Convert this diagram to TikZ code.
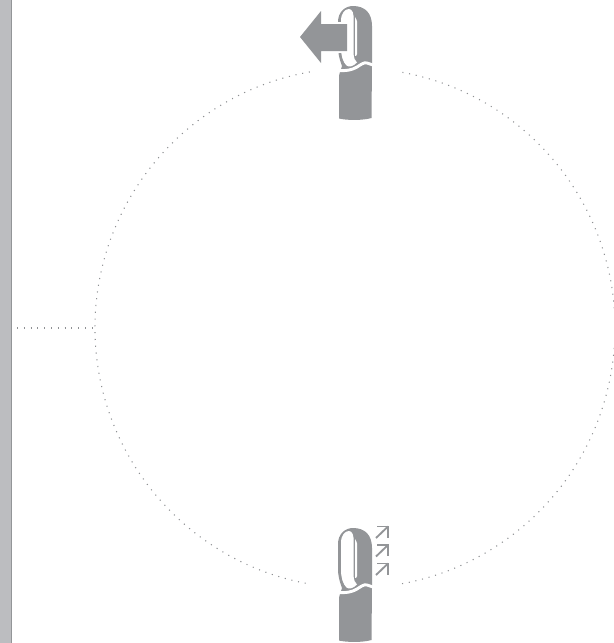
\documentclass[tikz,border=0pt]{standalone}
\usepackage{tikz}
\usetikzlibrary{arrows.meta,positioning,calc}
\usepackage{xcolor}
\definecolor{wandgray}{HTML}{939598}
\definecolor{barlight}{HTML}{BCBDC0}
\definecolor{dotgray}{HTML}{8E9093}

\tikzset{
  wand/.pic={
    % silhouette of head and handle
    \fill[wandgray] (-17,-16) .. controls (-17,-6) and (-10,0) .. (-2,0)
      .. controls (10,0) and (17,-7) .. (17,-20) -- (17,-58)
      .. controls (17,-75) and (16.5,-95) .. (16.5,-112)
      .. controls (8,-114.5) and (-8,-114.5) .. (-16,-112.5)
      -- (-16,-72) .. controls (-16,-68) and (-15,-66) .. (-14,-63) -- (-13,-60)
      .. controls (-16,-52) and (-17,-47) .. (-17,-40) -- cycle;
    % window of the head
    \fill[white] (-14,-15) .. controls (-14,-7) and (-10,-3) .. (-6,-3)
      .. controls (-2.5,-3) and (-1,-8) .. (-1.5,-14) -- (-1.5,-48)
      .. controls (-1,-52) and (0,-55) .. (2,-56.5)
      .. controls (-2,-60.5) and (-6,-61.5) .. (-8.5,-59.5)
      .. controls (-12,-56) and (-14,-50) .. (-14,-42) -- cycle;
    % slit
    \fill[white] (0,-11) .. controls (1,-13) and (2,-14) .. (2.2,-16)
      -- (2.2,-48) .. controls (1.6,-50) and (0.6,-50) .. (0,-50) -- cycle;
    % join between head and handle
    \draw[white, line width=2.2] (-18,-64.5) .. controls (-8,-65) and (-3,-64) .. (2,-61)
      .. controls (6,-58.5) and (9,-56) .. (12,-57) .. controls (14,-57.5) and (16,-58.5) .. (18,-59);
  },
  dotline/.style={dotgray, line width=0.8pt, dash pattern=on 0.8pt off 4.3pt},
  airflow/.style={wandgray, line width=1.4pt, line join=miter}
}

\begin{document}
\begin{tikzpicture}[x=0.75pt, y=0.75pt]
  \useasboundingbox (0,-643) rectangle (614,0);
  \coordinate (center) at (355,-328);
  \coordinate (edge) at (95,-328);
  \coordinate (barend) at (17,-328);
  % wall
  \fill[barlight] (0,-643) rectangle (10.5,0);
  \fill[wandgray] (10.5,-643) rectangle (12,0);
  % dotted circle
  \draw[dotline] (center) ++(79.5:260) arc[start angle=79.5, end angle=-80.2, radius=260];
  \draw[dotline] (center) ++(100:260) arc[start angle=100, end angle=260, radius=260];
  \draw[dotline] (barend) -- (edge);
  % wands
  \pic at (355,-6) {wand};
  \pic at (355,-528) {wand};
  % big arrow
  \fill[white] (330,-22) rectangle (347,-53);
  \fill[wandgray] (300,-37) -- (321,-11) -- (321,-24) -- (347,-24) -- (347,-51) -- (321,-51) -- (321,-63) -- cycle;
  % small arrows
  \foreach \yy in {526.5,545,563.5}{
    \draw[airflow] (377,-\yy) -- (388,-\yy) -- (388,-\yy-11);
    \draw[airflow] (376,-\yy-11.5) -- (388,-\yy);
  }
\end{tikzpicture}
\end{document}
